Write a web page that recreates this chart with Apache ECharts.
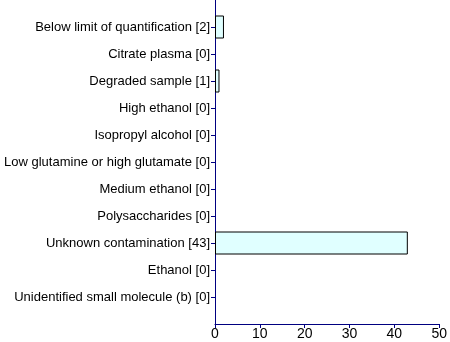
<!DOCTYPE html>
<html>
<head>
<meta charset="utf-8">
<script src="https://cdn.jsdelivr.net/npm/echarts@6/dist/echarts.min.js"></script>
<style>
  html, body { margin: 0; padding: 0; background: #fff; }
  #chart { width: 450px; height: 342px; }
</style>
</head>
<body>
<div id="chart"></div>
<script>
// Sample flag categories and their counts
var categories = [
  'Below limit of quantification',
  'Citrate plasma',
  'Degraded sample',
  'High ethanol',
  'Isopropyl alcohol',
  'Low glutamine or high glutamate',
  'Medium ethanol',
  'Polysaccharides',
  'Unknown contamination',
  'Ethanol',
  'Unidentified small molecule (b)'
];
var counts = [2, 0, 1, 0, 0, 0, 0, 0, 43, 0, 0];
var xTicks = [0, 10, 20, 30, 40, 50];

// Padding slots at both ends keep the bars half a band away from the axes
var axisLabels = [''].concat(categories.map(function (c, i) {
  return c + ' [' + counts[i] + ']';
})).concat(['']);
var barData = [null].concat(counts.map(function (v) {
  return v === 0 ? { value: v, itemStyle: { borderWidth: 0 } } : v;
})).concat([null]);

var axisColor = '#000080';
var font = 'Liberation Sans, Arial, sans-serif';
var chart = echarts.init(document.getElementById('chart'), null, { renderer: 'canvas' });
chart.setOption({
  animation: false,
  backgroundColor: '#ffffff',
  grid: { left: 215, right: 8, top: 0, bottom: 18, containLabel: false },
  xAxis: {
    type: 'value',
    min: xTicks[0],
    max: xTicks[xTicks.length - 1],
    interval: xTicks[1] - xTicks[0],
    axisLine: { show: true, lineStyle: { color: axisColor, width: 1 } },
    axisTick: { show: true, length: 4, lineStyle: { color: axisColor } },
    axisLabel: { color: '#000', fontFamily: font, fontSize: 14, margin: 3 },
    splitLine: { show: false }
  },
  yAxis: {
    type: 'category',
    inverse: true,
    boundaryGap: false,
    data: axisLabels,
    axisLine: { show: true, lineStyle: { color: axisColor, width: 1 } },
    axisTick: {
      show: true, length: 4, lineStyle: { color: axisColor },
      interval: function (i) { return i > 0 && i < axisLabels.length - 1; }
    },
    axisLabel: {
      color: '#000', fontFamily: font, fontSize: 13, margin: 5,
      interval: 0
    },
    splitLine: { show: false }
  },
  series: [{
    type: 'bar',
    data: barData,
    barWidth: 23,
    itemStyle: { color: '#e0ffff', borderColor: '#000000', borderWidth: 1 },
    z: 1
  }]
});
</script>
</body>
</html>
